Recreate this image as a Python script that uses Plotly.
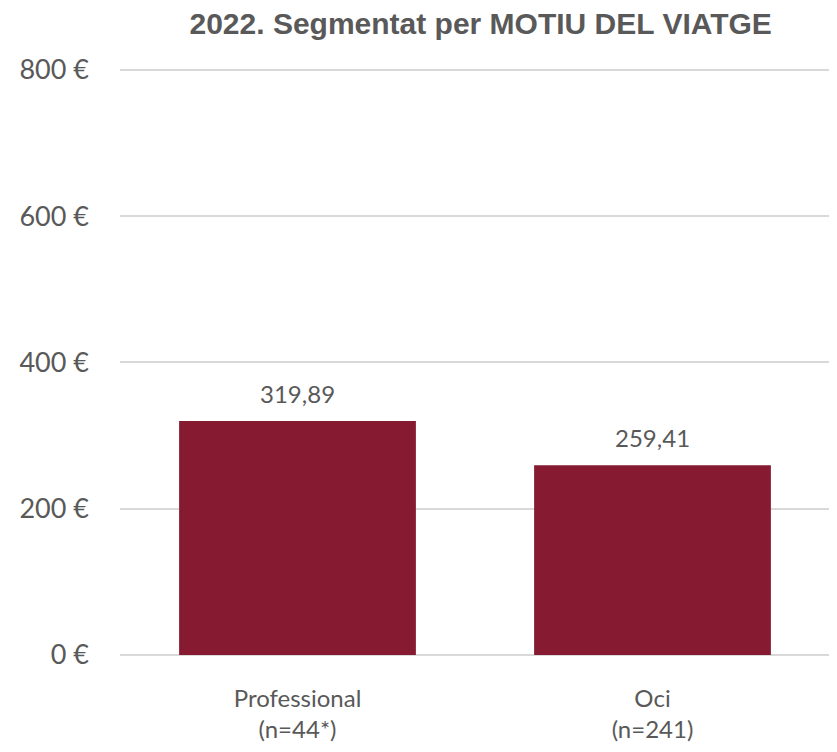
import plotly.graph_objects as go

# Dades
categories = ["Professional<br>(n=44*)", "Oci<br>(n=241)"]
values = [319.89, 259.41]
value_labels = ["319,89", "259,41"]
tick_vals = [0, 200, 400, 600, 800]
tick_text = ["0 €", "200 €", "400 €", "600 €", "800 €"]

fig = go.Figure()
fig.add_trace(go.Bar(
    x=categories,
    y=values,
    marker=dict(color="#861a31", line=dict(width=0)),
    width=0.667,
))

# etiquetes de valor damunt de cada barra
for cat, val, lab in zip(categories, values, value_labels):
    fig.add_annotation(
        x=cat, y=val, text=lab, showarrow=False,
        xref="x", yref="y", yanchor="middle", yshift=28,
        font=dict(family="Lato", size=24, color="#595959"),
    )

# la pagina te 8px de marge al body
fig.update_layout(
    width=837, height=752,
    margin=dict(l=112, r=15, t=60, b=105),
    paper_bgcolor="white",
    plot_bgcolor="white",
    showlegend=False,
    title=dict(
        text="<b>2022. Segmentat per MOTIU DEL VIATGE</b>",
        xref="paper", x=0.508, xanchor="center",
        yref="container", y=0.98, yanchor="middle",
        font=dict(family="Liberation Sans", size=30, color="#595959"),
    ),
    xaxis=dict(
        tickfont=dict(family="Lato", size=24, color="#595959"),
        showline=False, ticks="", automargin=False,
        ticklabelstandoff=27,
    ),
    yaxis=dict(
        range=[0, 802.7],
        tickvals=tick_vals,
        ticktext=tick_text,
        tickfont=dict(family="Lato", size=27, color="#595959"),
        showgrid=True, gridcolor="#d9d9d9", gridwidth=1.5,
        zeroline=True, zerolinecolor="#d9d9d9", zerolinewidth=1.5,
        ticklabelstandoff=30, automargin=False,
        ticks="",
    ),
)

fig.write_html("out.html")
